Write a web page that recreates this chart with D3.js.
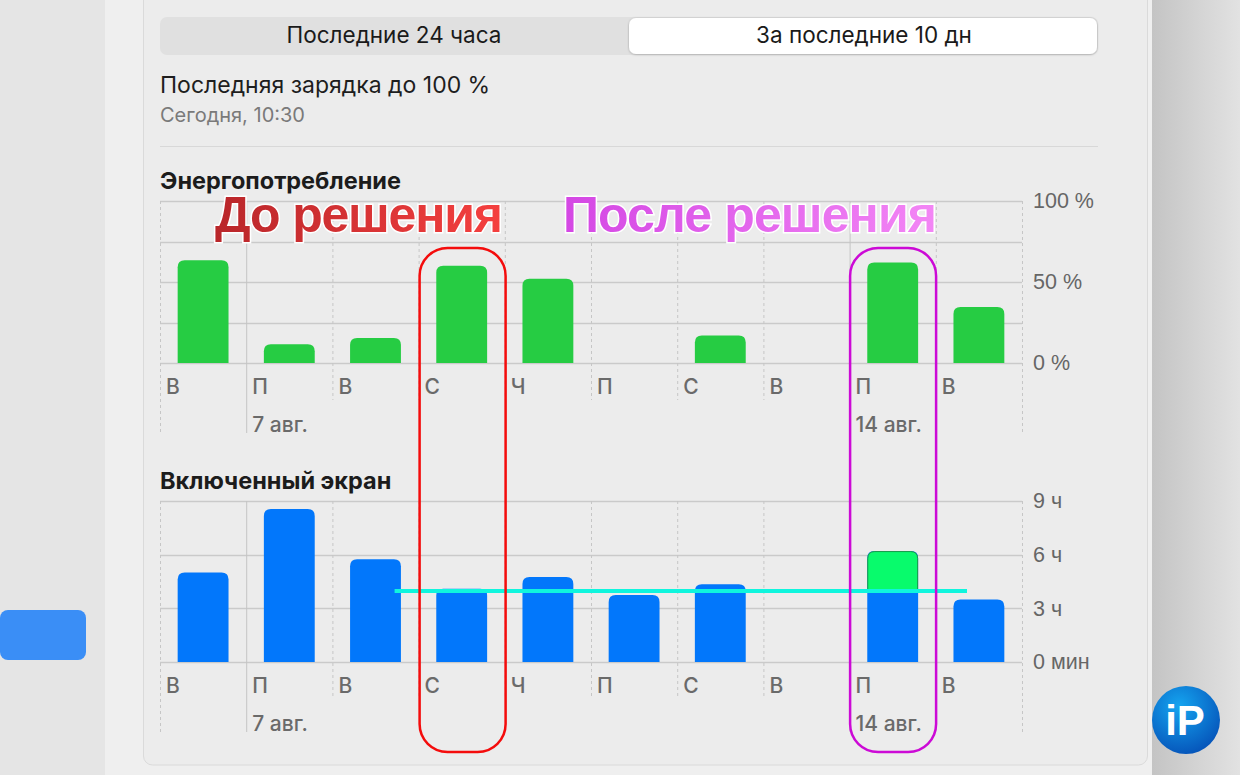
<!DOCTYPE html>
<html>
<head>
<meta charset="utf-8">
<script src="https://cdn.jsdelivr.net/npm/d3@7"></script>
<style>
  html, body { margin: 0; padding: 0; background: #e6e6e6; }
  svg { display: block; font-family: "Inter", "Roboto", "Noto Sans", sans-serif; }
</style>
</head>
<body>
<svg id="chart" width="1240" height="775"></svg>
<script>
// chart data
const days = ['В', 'П', 'В', 'С', 'Ч', 'П', 'С', 'В', 'П', 'В'];
const dateLabels = ['', '7 авг.', '', '', '', '', '', '', '14 авг.', ''];
const weekStarts = [1, 8];           // solid separators before these columns
const energyValues = [63.5, 11.5, 15.5, 60, 52, 0, 17, 0, 62, 34.5];   // %
const screenValues = [5.0, 8.55, 5.75, 4.1, 4.75, 3.75, 4.35, 0, 6.2, 3.5]; // hours
const energyGrid = [0, 25, 50, 75, 100];
const energyTicks = [0, 50, 100];
const energyTickLabels = ['0 %', '50 %', '100 %'];
const screenGrid = [0, 3, 6, 9];
const screenTickLabels = ['0 мин', '3 ч', '6 ч', '9 ч'];
const referenceLevel = 3.97;        // cyan line, hours
const highlightDay = 8;             // column with the green overshoot
const beforeDay = 3;

const svg = d3.select("#chart");

// ---------- background / window chrome ----------
const defs = svg.append("defs");
const rightGrad = defs.append("linearGradient").attr("id", "rightBg");
rightGrad.append("stop").attr("offset", "0%").attr("stop-color", "#c4c4c4");
rightGrad.append("stop").attr("offset", "100%").attr("stop-color", "#e2e2e2");

svg.append("rect").attr("x", 0).attr("y", 0).attr("width", 1240).attr("height", 775).attr("fill", "#e5e5e5");
svg.append("rect").attr("x", 105).attr("y", 0).attr("width", 1047).attr("height", 775).attr("fill", "#efefef");
svg.append("rect").attr("x", 1152).attr("y", 0).attr("width", 88).attr("height", 775).attr("fill", "url(#rightBg)");
svg.append("rect").attr("x", 0).attr("y", 610).attr("width", 86).attr("height", 50).attr("rx", 8).attr("fill", "#3a8ef6");

// card
svg.append("rect").attr("x", 143.5).attr("y", -20).attr("width", 1004).attr("height", 785)
  .attr("rx", 9).attr("fill", "#ececec").attr("stroke", "#dadada");

// segmented control
svg.append("rect").attr("x", 160).attr("y", 17).attr("width", 938).attr("height", 38).attr("rx", 7).attr("fill", "#e0e0e0");
const shadow = defs.append("filter").attr("id", "segShadow").attr("x", "-5%").attr("y", "-30%").attr("width", "110%").attr("height", "160%");
shadow.append("feDropShadow").attr("dx", 0).attr("dy", 0.5).attr("stdDeviation", 0.8).attr("flood-color", "#000").attr("flood-opacity", 0.3);
svg.append("rect").attr("x", 629).attr("y", 18).attr("width", 468).attr("height", 36).attr("rx", 7)
  .attr("fill", "#ffffff").attr("filter", "url(#segShadow)");
svg.append("text").attr("x", 394).attr("y", 43).attr("text-anchor", "middle")
  .attr("font-size", 22.5).attr("fill", "#1a1a1a").text("Последние 24 часа");
svg.append("text").attr("x", 864).attr("y", 43).attr("text-anchor", "middle")
  .attr("font-size", 22.5).attr("fill", "#1a1a1a").text("За последние 10 дн");

svg.append("text").attr("x", 160).attr("y", 93).attr("font-size", 23).attr("fill", "#1e1e1e").text("Последняя зарядка до 100 %");
svg.append("text").attr("x", 160).attr("y", 122).attr("font-size", 20).attr("fill", "#7a7a7a").text("Сегодня, 10:30");
svg.append("line").attr("x1", 160).attr("x2", 1098).attr("y1", 146.5).attr("y2", 146.5).attr("stroke", "#d8d8d8");

// ---------- shared x scales ----------
const left = 160, right = 1022;
const xCol = d3.scaleBand().domain(d3.range(days.length)).range([left, right]);
const xBar = d3.scaleBand().domain(d3.range(days.length)).range([left, right]).paddingInner(0.41).paddingOuter(0.205);

// bar with rounded top corners
function topRounded(x, y, w, h, r) {
  if (h <= 0) return "";
  r = Math.min(r, h, w / 2);
  return `M${x},${y + h}V${y + r}Q${x},${y} ${x + r},${y}H${x + w - r}Q${x + w},${y} ${x + w},${y + r}V${y + h}Z`;
}

function drawPanel(opt) {
  const g = svg.append("g");
  const y = d3.scaleLinear().domain(opt.domain).range([opt.bottom, opt.top]);

  g.append("text").attr("x", left).attr("y", opt.top - 12).attr("font-size", 23.5).attr("font-weight", 700)
    .attr("fill", "#1c1c1c").text(opt.title);

  // horizontal grid
  g.selectAll(".hgrid").data(opt.grid).join("line")
    .attr("x1", left).attr("x2", right)
    .attr("y1", d => Math.round(y(d)) + 0.5).attr("y2", d => Math.round(y(d)) + 0.5)
    .attr("stroke", "#cacaca").attr("stroke-width", 1.5);

  // vertical column separators
  const seps = d3.range(days.length + 1);
  g.selectAll(".vgrid").data(seps).join("line")
    .attr("x1", i => (i < days.length ? xCol(i) : right) + 0.5)
    .attr("x2", i => (i < days.length ? xCol(i) : right) + 0.5)
    .attr("y1", opt.top)
    .attr("y2", i => (i === 0 || i === days.length || weekStarts.includes(i)) ? opt.bottom + 70 : opt.bottom + 37)
    .attr("stroke", i => weekStarts.includes(i) ? "#c4c4c4" : "#c6c6c6")
    .attr("stroke-dasharray", i => weekStarts.includes(i) ? null : "3,3");

  // bars
  g.selectAll(".bar").data(opt.values).join("path")
    .attr("d", (v, i) => topRounded(xBar(i), y(v), xBar.bandwidth(), opt.bottom - y(v), 7))
    .attr("fill", opt.color);

  if (opt.after) opt.after(g, y);

  // right axis labels
  const axis = d3.axisRight(y).tickValues(opt.ticks).tickSize(0).tickPadding(0)
    .tickFormat((d, i) => opt.tickLabels[i]);
  const ag = g.append("g").attr("transform", `translate(${right + 11},0)`).call(axis);
  ag.select(".domain").remove();
  ag.selectAll("text").attr("font-size", 21.5).attr("fill", "#666").attr("font-weight", 500).attr("font-family", null);

  // day + date labels
  g.selectAll(".day").data(days).join("text")
    .attr("x", (d, i) => xCol(i) + 6).attr("y", opt.bottom + 31)
    .attr("font-size", 21).attr("font-weight", 500).attr("fill", "#6a6a6a").text(d => d);
  g.selectAll(".date").data(dateLabels).join("text")
    .attr("x", (d, i) => xCol(i) + 6).attr("y", opt.bottom + 69)
    .attr("font-size", 21).attr("font-weight", 500).attr("fill", "#6a6a6a").text(d => d);
}

drawPanel({
  title: "Энергопотребление", top: 201, bottom: 363, domain: [0, 100],
  grid: energyGrid, ticks: energyTicks, tickLabels: energyTickLabels,
  values: energyValues, color: "#26cc43"
});

drawPanel({
  title: "Включенный экран", top: 501, bottom: 662, domain: [0, 9],
  grid: screenGrid, ticks: screenGrid, tickLabels: screenTickLabels,
  values: screenValues, color: "#0277fb",
  after: (g, y) => {
    const v = screenValues[highlightDay];
    g.append("path")
      .attr("d", topRounded(xBar(highlightDay) + 0.5, y(v) + 0.5, xBar.bandwidth() - 1, y(referenceLevel) - y(v), 7))
      .attr("fill", "#08fb6c").attr("stroke", "#1c9c45").attr("stroke-width", 1);
    g.append("line")
      .attr("x1", xCol(beforeDay) - 24).attr("x2", 967)
      .attr("y1", y(referenceLevel)).attr("y2", y(referenceLevel))
      .attr("stroke", "#0ff5dd").attr("stroke-width", 4);
  }
});

// ---------- annotations ----------
const redGrad = defs.append("linearGradient").attr("id", "redGrad");
redGrad.append("stop").attr("offset", "0%").attr("stop-color", "#b9262a");
redGrad.append("stop").attr("offset", "100%").attr("stop-color", "#f5403f");
const pinkGrad = defs.append("linearGradient").attr("id", "pinkGrad");
pinkGrad.append("stop").attr("offset", "0%").attr("stop-color", "#d447e4");
pinkGrad.append("stop").attr("offset", "100%").attr("stop-color", "#f386f5");

svg.append("text").attr("x", 215).attr("y", 232).attr("font-size", 50).attr("font-weight", 700)
  .attr("font-family", "'Liberation Sans', Arial, sans-serif")
  .attr("fill", "url(#redGrad)").attr("stroke", "#fff").attr("stroke-width", 3).attr("paint-order", "stroke")
  .attr("textLength", 288).text("До решения");
svg.append("text").attr("x", 563).attr("y", 232).attr("font-size", 50).attr("font-weight", 700)
  .attr("font-family", "'Liberation Sans', Arial, sans-serif")
  .attr("fill", "url(#pinkGrad)").attr("stroke", "#fff").attr("stroke-width", 3).attr("paint-order", "stroke")
  .attr("textLength", 374).text("После решения");

svg.append("rect").attr("x", xCol(beforeDay) + 1).attr("y", 248).attr("width", 86).attr("height", 504)
  .attr("rx", 28).attr("fill", "none").attr("stroke", "#f40c0c").attr("stroke-width", 2.5);
svg.append("rect").attr("x", xCol(highlightDay) + 0.5).attr("y", 248).attr("width", 86).attr("height", 504)
  .attr("rx", 28).attr("fill", "none").attr("stroke", "#cc0ad6").attr("stroke-width", 2.5);

// ---------- iP badge ----------
const badgeGrad = defs.append("radialGradient").attr("id", "badge").attr("cx", "40%").attr("cy", "30%").attr("r", "75%");
badgeGrad.append("stop").attr("offset", "0%").attr("stop-color", "#15a5f0");
badgeGrad.append("stop").attr("offset", "100%").attr("stop-color", "#0552b8");
svg.append("circle").attr("cx", 1186).attr("cy", 720).attr("r", 34).attr("fill", "url(#badge)");
svg.append("text").attr("x", 1185).attr("y", 735).attr("text-anchor", "middle").attr("font-size", 42)
  .attr("font-weight", 700).attr("font-family", "'Liberation Sans', Arial, sans-serif")
  .attr("fill", "#fff").text("iP");
</script>
</body>
</html>
